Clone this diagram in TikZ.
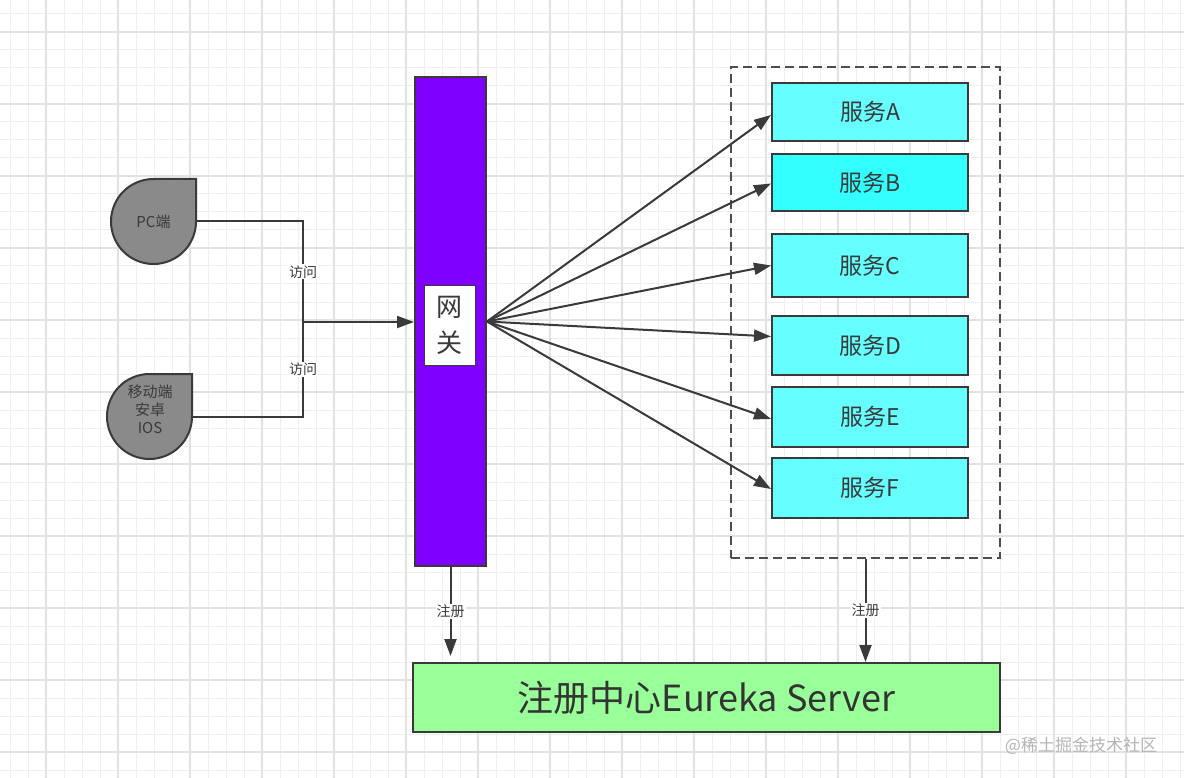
\documentclass[tikz,border=0pt]{standalone}
\usepackage{fontspec}
\setmainfont{Noto Sans CJK SC}
\usepackage{tikz}
\usetikzlibrary{arrows.meta}
\definecolor{ink}{HTML}{3A3A3A}
\definecolor{gridminor}{HTML}{EFEFEF}
\definecolor{gridmajor}{HTML}{E2E2E2}
\definecolor{devgray}{HTML}{8A8A8A}
\definecolor{gatepurple}{HTML}{7F00FF}
\definecolor{svcfill}{HTML}{66FFFF}
\definecolor{svcfillb}{HTML}{33FFFF}
\definecolor{regfill}{HTML}{99FF99}
\definecolor{marktext}{HTML}{B5B5B5}

\begin{document}
\begin{tikzpicture}[x=1pt,y=-1pt,
  wire/.style={draw=ink,line width=2pt},
  link/.style={wire,-{Triangle[length=17pt,width=12pt]}},
  tag/.style={fill=white,inner sep=1pt,font=\fontsize{14}{14}\selectfont,text=ink},
  drop/.style={draw=ink,line width=2pt,fill=devgray},
  dev/.style={minimum width=85pt,minimum height=85pt,inner sep=0pt,align=center,text=ink,font=\fontsize{15}{18}\selectfont},
  svc/.style={draw=ink,line width=2pt,fill=svcfill,minimum width=196pt,inner sep=0pt,text=ink,font=\fontsize{23}{23}\selectfont}]
\useasboundingbox (0,0) rectangle (1184,778);
\fill[white] (0,0) rectangle (1184,778);
% background grid
\foreach \x in {10,28,...,1184} \draw[gridminor,line width=1pt] (\x,0)--(\x,778);
\foreach \y in {14,32,...,778} \draw[gridminor,line width=1pt] (0,\y)--(1184,\y);
\foreach \x in {46,118,...,1184} \draw[gridmajor,line width=1.2pt] (\x,0)--(\x,778);
\foreach \y in {32,104,...,778} \draw[gridmajor,line width=1.2pt] (0,\y)--(1184,\y);

% clients
\draw[drop] (196,179)--(196,221.5) arc[start angle=0,end angle=270,radius=42.5]--cycle;
\node[dev] (pc) at (153.5,221.5) {PC端};
\draw[drop] (192,374)--(192,416.5) arc[start angle=0,end angle=270,radius=42.5]--cycle;
\node[dev] (mob) at (149.5,416.5) {};
\node[dev,minimum size=0pt] (mobtxt) at (150,409) {移动端\\安卓\\IOS};

% gateway
\node[draw=ink,line width=2pt,fill=gatepurple,minimum width=71pt,minimum height=489pt] (gw) at (450.5,321.5) {};
\node[draw=ink,line width=1pt,fill=white,minimum width=51pt,minimum height=79pt,inner sep=0pt,align=center,text=ink,font=\fontsize{26}{36}\selectfont] (gwtxt) at (449.5,325.5) {网\\关};

% services
\node[draw=ink!90,dashed,dash pattern=on 9pt off 5pt,line width=2pt,minimum width=269pt,minimum height=491pt] (grp) at (865.5,312.5) {};
\node[svc,minimum height=58pt] (svA) at (870,112) {服务A};
\node[svc,minimum height=57pt,fill=svcfillb] (svB) at (870,182.5) {服务B};
\node[svc,minimum height=63pt] (svC) at (870,265.5) {服务C};
\node[svc,minimum height=59pt] (svD) at (870,345.5) {服务D};
\node[svc,minimum height=60pt] (svE) at (870,417) {服务E};
\node[svc,minimum height=60pt] (svF) at (870,488) {服务F};

% registry
\node[draw=ink,line width=2pt,fill=regfill,minimum width=587pt,minimum height=69pt,text=ink!90!black,font=\fontsize{36}{36}\selectfont] (eu) at (706.5,697.5) {注册中心Eureka Server};

% access
\coordinate (join) at (303,322);
\draw[wire] (pc.east) -| (join) node[tag,pos=0.75] {访问};
\draw[wire] (mob.east) -| (join) node[tag,pos=0.75] {访问};
\draw[link] (join) -- (join -| gw.west);

% routing
\foreach \s/\d in {A/-3,B/-1,C/0,D/9,E/-2,F/-1}
  \draw[link] (gw.east) -- ([yshift=\d pt]sv\s.west);

% register
\draw[link,shorten >=6pt] (gw.south) -- (gw.south |- eu.north) node[tag,midway,yshift=3pt] {注册};
\draw[link] (grp.south) -- (grp.south |- eu.north) node[tag,midway] {注册};

\node[text=marktext,font=\fontsize{17}{17}\selectfont] (mark) at (1081,746) {@稀土掘金技术社区};
\end{tikzpicture}
\end{document}
